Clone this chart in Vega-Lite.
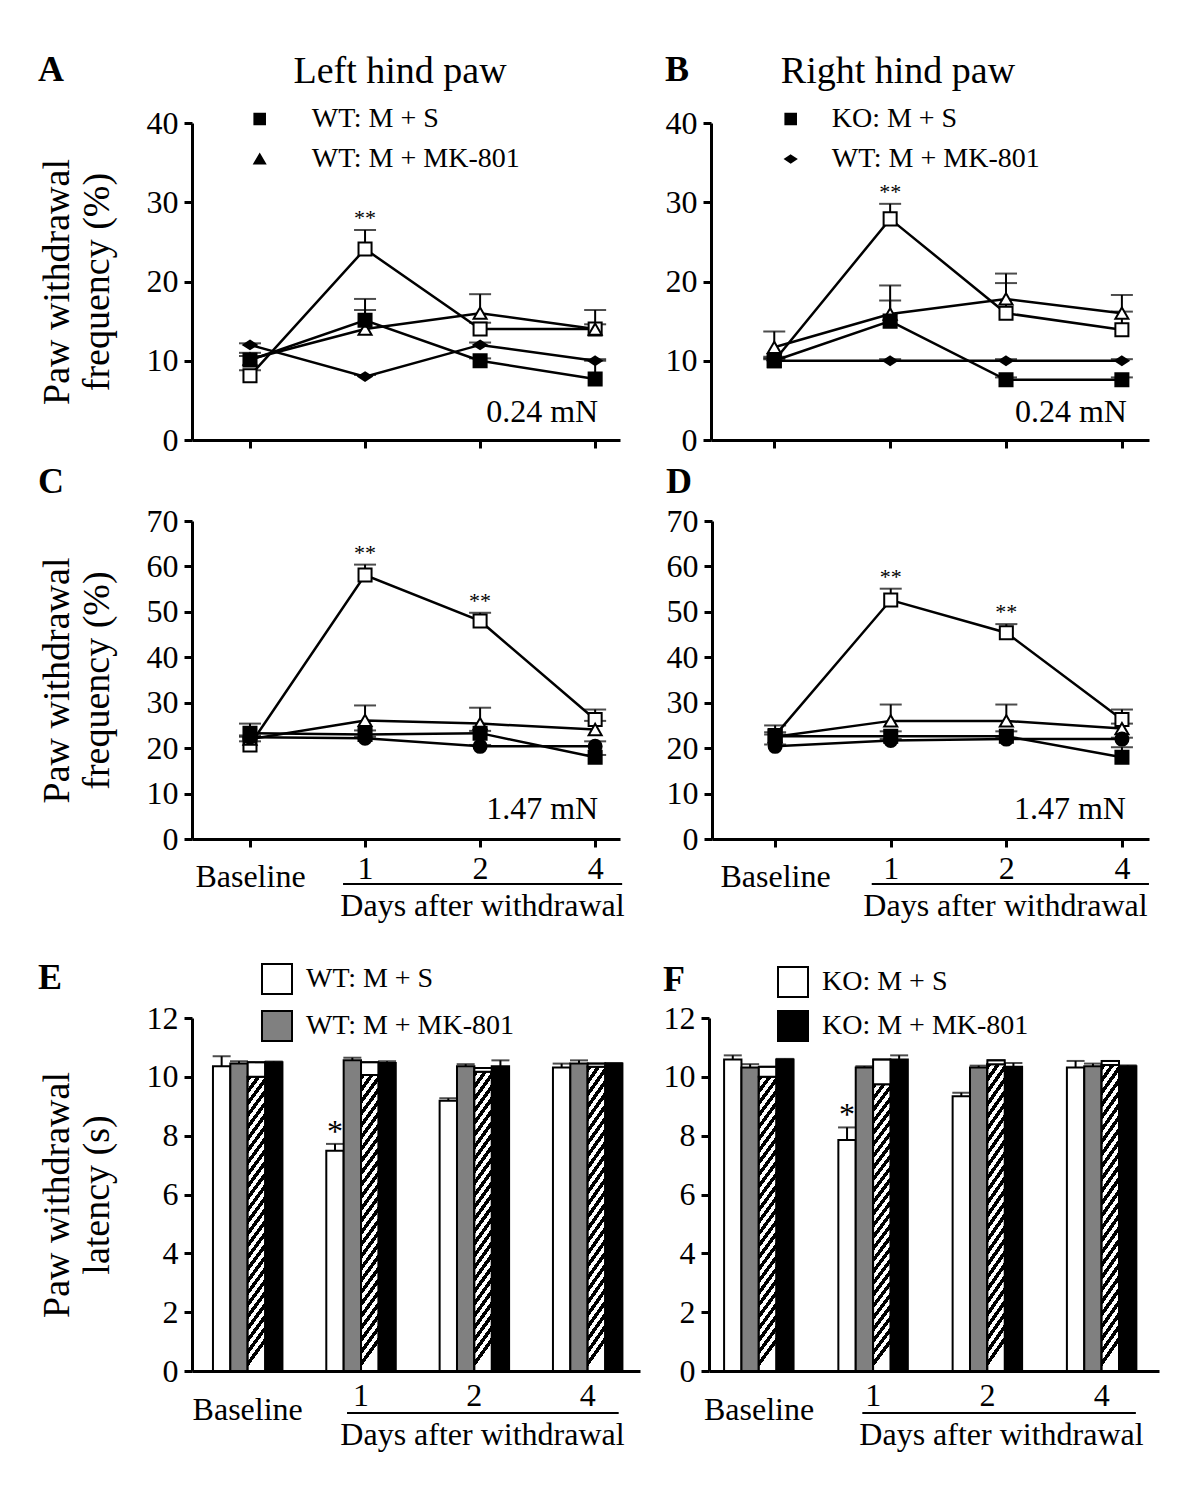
{
"$schema": "https://vega.github.io/schema/vega-lite/v6.json",
"background": "white",
"padding": {"left": 38, "top": 52, "right": 40, "bottom": 40},
"datasets": {
"lines": [
{"panel":"A","series":"WT_S","day":"Baseline","mean":8.1,"hi":8.8},
{"panel":"A","series":"WT_S","day":"1","mean":24.1,"hi":26.5,"sig":"**"},
{"panel":"A","series":"WT_S","day":"2","mean":14.0,"hi":14.8},
{"panel":"A","series":"WT_S","day":"4","mean":14.0,"hi":14.6},
{"panel":"A","series":"WT_MK","day":"Baseline","mean":10.2,"hi":11.0},
{"panel":"A","series":"WT_MK","day":"1","mean":14.0,"hi":17.8},
{"panel":"A","series":"WT_MK","day":"2","mean":16.0,"hi":18.4},
{"panel":"A","series":"WT_MK","day":"4","mean":14.0,"hi":16.4},
{"panel":"A","series":"KO_S","day":"Baseline","mean":10.1,"hi":10.6},
{"panel":"A","series":"KO_S","day":"1","mean":15.1,"hi":16.4},
{"panel":"A","series":"KO_S","day":"2","mean":10.0,"hi":10.3},
{"panel":"A","series":"KO_S","day":"4","mean":7.7,"hi":10.0},
{"panel":"A","series":"KO_MK","day":"Baseline","mean":12.0,"hi":12.2},
{"panel":"A","series":"KO_MK","day":"1","mean":8.0,"hi":8.2},
{"panel":"A","series":"KO_MK","day":"2","mean":12.0,"hi":12.3},
{"panel":"A","series":"KO_MK","day":"4","mean":10.0,"hi":10.2},
{"panel":"B","series":"WT_S","day":"Baseline","mean":10.0,"hi":10.5},
{"panel":"B","series":"WT_S","day":"1","mean":27.9,"hi":29.8,"sig":"**"},
{"panel":"B","series":"WT_S","day":"2","mean":16.0,"hi":19.8},
{"panel":"B","series":"WT_S","day":"4","mean":13.9,"hi":16.2},
{"panel":"B","series":"WT_MK","day":"Baseline","mean":11.7,"hi":13.7},
{"panel":"B","series":"WT_MK","day":"1","mean":15.9,"hi":19.5},
{"panel":"B","series":"WT_MK","day":"2","mean":17.8,"hi":21.0},
{"panel":"B","series":"WT_MK","day":"4","mean":16.0,"hi":18.3},
{"panel":"B","series":"KO_S","day":"Baseline","mean":10.0,"hi":10.3},
{"panel":"B","series":"KO_S","day":"1","mean":15.0,"hi":17.6},
{"panel":"B","series":"KO_S","day":"2","mean":7.6,"hi":7.9},
{"panel":"B","series":"KO_S","day":"4","mean":7.6,"hi":7.9},
{"panel":"B","series":"KO_MK","day":"Baseline","mean":10.0,"hi":10.2},
{"panel":"B","series":"KO_MK","day":"1","mean":10.0,"hi":10.2},
{"panel":"B","series":"KO_MK","day":"2","mean":10.0,"hi":10.2},
{"panel":"B","series":"KO_MK","day":"4","mean":10.0,"hi":10.2},
{"panel":"C","series":"WT_S","day":"Baseline","mean":20.7,"hi":21.5},
{"panel":"C","series":"WT_S","day":"1","mean":58.1,"hi":60.4,"sig":"**"},
{"panel":"C","series":"WT_S","day":"2","mean":48.0,"hi":49.8,"sig":"**"},
{"panel":"C","series":"WT_S","day":"4","mean":26.3,"hi":28.5},
{"panel":"C","series":"WT_MK","day":"Baseline","mean":22.0,"hi":22.5},
{"panel":"C","series":"WT_MK","day":"1","mean":26.1,"hi":29.4},
{"panel":"C","series":"WT_MK","day":"2","mean":25.4,"hi":28.9},
{"panel":"C","series":"WT_MK","day":"4","mean":24.1,"hi":26.0},
{"panel":"C","series":"KO_S","day":"Baseline","mean":23.3,"hi":25.4},
{"panel":"C","series":"KO_S","day":"1","mean":23.0,"hi":23.9},
{"panel":"C","series":"KO_S","day":"2","mean":23.3,"hi":23.8},
{"panel":"C","series":"KO_S","day":"4","mean":18.0,"hi":18.5},
{"panel":"C","series":"KO_MK","day":"Baseline","mean":22.4,"hi":22.8},
{"panel":"C","series":"KO_MK","day":"1","mean":22.2,"hi":22.5},
{"panel":"C","series":"KO_MK","day":"2","mean":20.4,"hi":20.7},
{"panel":"C","series":"KO_MK","day":"4","mean":20.4,"hi":21.5},
{"panel":"D","series":"WT_S","day":"Baseline","mean":22.8,"hi":23.5},
{"panel":"D","series":"WT_S","day":"1","mean":52.6,"hi":55.1,"sig":"**"},
{"panel":"D","series":"WT_S","day":"2","mean":45.4,"hi":47.3,"sig":"**"},
{"panel":"D","series":"WT_S","day":"4","mean":26.3,"hi":28.5},
{"panel":"D","series":"WT_MK","day":"Baseline","mean":22.5,"hi":23.0},
{"panel":"D","series":"WT_MK","day":"1","mean":26.0,"hi":29.6},
{"panel":"D","series":"WT_MK","day":"2","mean":26.0,"hi":29.6},
{"panel":"D","series":"WT_MK","day":"4","mean":24.3,"hi":25.4},
{"panel":"D","series":"KO_S","day":"Baseline","mean":22.6,"hi":25.0},
{"panel":"D","series":"KO_S","day":"1","mean":22.6,"hi":23.7},
{"panel":"D","series":"KO_S","day":"2","mean":22.6,"hi":23.7},
{"panel":"D","series":"KO_S","day":"4","mean":18.0,"hi":20.2},
{"panel":"D","series":"KO_MK","day":"Baseline","mean":20.4,"hi":20.8},
{"panel":"D","series":"KO_MK","day":"1","mean":21.7,"hi":22.0},
{"panel":"D","series":"KO_MK","day":"2","mean":22.0,"hi":22.3},
{"panel":"D","series":"KO_MK","day":"4","mean":22.0,"hi":22.3}
],
"bars": [
{"panel":"E","series":"WT_S","day":"Baseline","mean":10.36,"hi":10.7},
{"panel":"E","series":"WT_MK","day":"Baseline","mean":10.45,"hi":10.53},
{"panel":"E","series":"KO_S","day":"Baseline","mean":10.0,"hi":10.5},
{"panel":"E","series":"KO_MK","day":"Baseline","mean":10.5,"hi":10.52},
{"panel":"E","series":"WT_S","day":"1","mean":7.49,"hi":7.72,"sig":"*"},
{"panel":"E","series":"WT_MK","day":"1","mean":10.56,"hi":10.65},
{"panel":"E","series":"KO_S","day":"1","mean":10.06,"hi":10.5},
{"panel":"E","series":"KO_MK","day":"1","mean":10.47,"hi":10.53},
{"panel":"E","series":"WT_S","day":"2","mean":9.19,"hi":9.27},
{"panel":"E","series":"WT_MK","day":"2","mean":10.36,"hi":10.43},
{"panel":"E","series":"KO_S","day":"2","mean":10.17,"hi":10.3},
{"panel":"E","series":"KO_MK","day":"2","mean":10.36,"hi":10.56},
{"panel":"E","series":"WT_S","day":"4","mean":10.32,"hi":10.45},
{"panel":"E","series":"WT_MK","day":"4","mean":10.45,"hi":10.56},
{"panel":"E","series":"KO_S","day":"4","mean":10.34,"hi":10.45},
{"panel":"E","series":"KO_MK","day":"4","mean":10.45,"hi":10.47},
{"panel":"F","series":"WT_S","day":"Baseline","mean":10.59,"hi":10.73},
{"panel":"F","series":"WT_MK","day":"Baseline","mean":10.32,"hi":10.43},
{"panel":"F","series":"KO_S","day":"Baseline","mean":10.0,"hi":10.34},
{"panel":"F","series":"KO_MK","day":"Baseline","mean":10.59,"hi":10.61},
{"panel":"F","series":"WT_S","day":"1","mean":7.85,"hi":8.28,"sig":"*"},
{"panel":"F","series":"WT_MK","day":"1","mean":10.32,"hi":10.36},
{"panel":"F","series":"KO_S","day":"1","mean":9.75,"hi":10.59},
{"panel":"F","series":"KO_MK","day":"1","mean":10.59,"hi":10.73},
{"panel":"F","series":"WT_S","day":"2","mean":9.34,"hi":9.46},
{"panel":"F","series":"WT_MK","day":"2","mean":10.32,"hi":10.38},
{"panel":"F","series":"KO_S","day":"2","mean":10.43,"hi":10.56},
{"panel":"F","series":"KO_MK","day":"2","mean":10.34,"hi":10.47},
{"panel":"F","series":"WT_S","day":"4","mean":10.32,"hi":10.54},
{"panel":"F","series":"WT_MK","day":"4","mean":10.36,"hi":10.45},
{"panel":"F","series":"KO_S","day":"4","mean":10.4,"hi":10.54},
{"panel":"F","series":"KO_MK","day":"4","mean":10.36,"hi":10.39}
]
},
"vconcat": [
{"vconcat": [
{"hconcat": [
{"title": {"text": "A", "anchor": "start", "frame": "bounds", "fontWeight": "bold", "fontSize": 36, "baseline": "bottom", "offset": -72},
 "resolve": {"scale": {"shape": "independent", "fill": "independent"}, "legend": {"shape": "independent", "fill": "independent"}},
 "vconcat": [
 {"width": 428, "height": 317,
  "title": {"text": "Left hind paw", "fontSize": 38, "anchor": "middle", "frame": "group", "dx": -6, "offset": -24, "baseline": "bottom"},
  "data": {"name": "lines"},
  "transform": [{"filter": "datum.panel === 'A'"}],
  "layer": [
   {"mark": {"type": "rule", "color": "black", "strokeWidth": 2},
    "encoding": {
     "x": {"field": "day", "type": "ordinal", "scale": {"type": "point", "domain": ["Baseline","1","2","4"], "padding": 0.36, "align": 0.7}, "axis": {"labels": false, "title": null}},
     "y": {"field": "mean", "type": "quantitative", "scale": {"domain": [0, 40], "nice": false}, "axis": {"title": ["Paw withdrawal", "frequency (%)"], "values": [0,10,20,30,40], "titlePadding": 30, "labelPadding": 6, "titleLineHeight": 40}},
     "y2": {"field": "hi"}
    }
   },
   {"mark": {"type": "tick", "color": "black", "size": 22, "thickness": 2},
    "encoding": {"x": {"field": "day", "type": "ordinal"}, "y": {"field": "hi", "type": "quantitative"}}},
   {"mark": {"type": "line", "color": "black", "strokeWidth": 2.5},
    "encoding": {"x": {"field": "day", "type": "ordinal"}, "y": {"field": "mean", "type": "quantitative"}, "detail": {"field": "series", "type": "nominal"}, "order": {"value": null}}},
   {"mark": {"type": "point", "filled": true, "stroke": "black", "strokeWidth": 2, "size": 170, "opacity": 1},
    "encoding": {
     "x": {"field": "day", "type": "ordinal"},
     "y": {"field": "mean", "type": "quantitative"},
     "shape": {"field": "series", "type": "nominal",
      "scale": {"domain": ["WT_S","WT_MK","KO_S","KO_MK"], "range": ["square","triangle-up","square","M0,-0.65L1,0L0,0.65L-1,0Z"]},
      "legend": {"values": ["WT_S","WT_MK"], "orient": "none", "legendX": 53.7, "legendY": -18, "title": null, "symbolSize": 112, "symbolStrokeWidth": 2, "labelFontSize": 28, "labelOffset": 38, "rowPadding": 12,
       "labelExpr": "datum.value === 'WT_S' ? 'WT: M + S' : 'WT: M + MK-801'",
       "encode": {"symbols": {"update": {
         "fill": {"value": "white"}, "stroke": {"value": "black"}, "strokeWidth": {"value": 2}, "opacity": {"value": 1}, "size": {"value": 112}
       }}}
      }
     },
     "fill": {"field": "series", "type": "nominal", "scale": {"domain": ["KO_S","KO_MK","WT_S","WT_MK"], "range": ["black","black","white","white"]}, "legend": null}
    }
   },
   {"transform": [{"filter": "datum.sig"}],
    "mark": {"type": "text", "baseline": "bottom", "fontSize": 22},
    "encoding": {"x": {"field": "day", "type": "ordinal"}, "y": {"field": "hi", "type": "quantitative"}, "text": {"field": "sig"}}},
   {"data": {"values": [{"panel": "A", "note": "0.24 mN"}]},
    "mark": {"type": "text", "align": "right", "baseline": "middle", "fontSize": 32, "dx": 3},
    "encoding": {"x": {"datum": "4", "type": "ordinal"}, "y": {"datum": 3.5, "type": "quantitative"}, "text": {"field": "note"}}}
  ]
 }
 ]
},
{"title": {"text": "B", "anchor": "start", "frame": "bounds", "fontWeight": "bold", "fontSize": 36, "baseline": "bottom", "offset": -72},
 "resolve": {"scale": {"shape": "independent", "fill": "independent"}, "legend": {"shape": "independent", "fill": "independent"}},
 "vconcat": [
 {"width": 438, "height": 317,
  "title": {"text": "Right hind paw", "fontSize": 38, "anchor": "middle", "frame": "group", "dx": -32, "offset": -24, "baseline": "bottom"},
  "data": {"name": "lines"},
  "transform": [{"filter": "datum.panel === 'B'"}],
  "layer": [
   {"mark": {"type": "rule", "color": "black", "strokeWidth": 2},
    "encoding": {
     "x": {"field": "day", "type": "ordinal", "scale": {"type": "point", "domain": ["Baseline","1","2","4"], "padding": 0.39, "align": 0.7}, "axis": {"labels": false, "title": null}},
     "y": {"field": "mean", "type": "quantitative", "scale": {"domain": [0, 40], "nice": false}, "axis": {"title": null, "values": [0,10,20,30,40], "labelPadding": 6}},
     "y2": {"field": "hi"}
    }
   },
   {"mark": {"type": "tick", "color": "black", "size": 22, "thickness": 2},
    "encoding": {"x": {"field": "day", "type": "ordinal"}, "y": {"field": "hi", "type": "quantitative"}}},
   {"mark": {"type": "line", "color": "black", "strokeWidth": 2.5},
    "encoding": {"x": {"field": "day", "type": "ordinal"}, "y": {"field": "mean", "type": "quantitative"}, "detail": {"field": "series", "type": "nominal"}, "order": {"value": null}}},
   {"mark": {"type": "point", "filled": true, "stroke": "black", "strokeWidth": 2, "size": 170, "opacity": 1},
    "encoding": {
     "x": {"field": "day", "type": "ordinal"},
     "y": {"field": "mean", "type": "quantitative"},
     "shape": {"field": "series", "type": "nominal",
      "scale": {"domain": ["WT_S","WT_MK","KO_S","KO_MK"], "range": ["square","triangle-up","square","M0,-0.65L1,0L0,0.65L-1,0Z"]},
      "legend": {"values": ["KO_S","KO_MK"], "orient": "none", "legendX": 65.7, "legendY": -18, "title": null, "symbolSize": 112, "symbolStrokeWidth": 2, "labelFontSize": 28, "labelOffset": 27, "rowPadding": 12,
       "labelExpr": "datum.value === 'KO_S' ? 'KO: M + S' : 'WT: M + MK-801'",
       "encode": {"symbols": {"update": {
         "fill": {"value": "black"}, "stroke": {"value": "black"}, "strokeWidth": {"value": 2}, "opacity": {"value": 1}, "size": {"value": 112}
       }}}
      }
     },
     "fill": {"field": "series", "type": "nominal", "scale": {"domain": ["KO_S","KO_MK","WT_S","WT_MK"], "range": ["black","black","white","white"]}, "legend": null}
    }
   },
   {"transform": [{"filter": "datum.sig"}],
    "mark": {"type": "text", "baseline": "bottom", "fontSize": 22},
    "encoding": {"x": {"field": "day", "type": "ordinal"}, "y": {"field": "hi", "type": "quantitative"}, "text": {"field": "sig"}}},
   {"data": {"values": [{"panel": "B", "note": "0.24 mN"}]},
    "mark": {"type": "text", "align": "right", "baseline": "middle", "fontSize": 32, "dx": 5},
    "encoding": {"x": {"datum": "4", "type": "ordinal"}, "y": {"datum": 3.5, "type": "quantitative"}, "text": {"field": "note"}}}
  ]
 }
 ]
}
], "spacing": 45, "resolve": {"scale": {"shape": "independent", "fill": "independent"}, "legend": {"shape": "independent", "fill": "independent"}}},
{"hconcat": [
 {"width": 428, "height": 318,
  "title": {"text": "C", "anchor": "start", "frame": "bounds", "fontWeight": "bold", "fontSize": 36, "baseline": "bottom", "offset": -32},
  "data": {"name": "lines"},
  "transform": [{"filter": "datum.panel === 'C'"}],
  "layer": [
   {"mark": {"type": "rule", "color": "black", "strokeWidth": 2},
    "encoding": {
     "x": {"field": "day", "type": "ordinal", "scale": {"type": "point", "domain": ["Baseline","1","2","4"], "padding": 0.36, "align": 0.7},
      "axis": {"title": "Days after withdrawal", "titleX": 290, "titleY": 51, "titleBaseline": "top", "titleAlign": "center", "titleFontSize": 32, "labelAngle": 0, "labelPadding": 6, "labelBaseline": "top", "labelLineHeight": 8, "labelExpr": "datum.value === 'Baseline' ? ['', 'Baseline'] : datum.label"}},
     "y": {"field": "mean", "type": "quantitative", "scale": {"domain": [0, 70], "nice": false}, "axis": {"title": ["Paw withdrawal", "frequency (%)"], "values": [0,10,20,30,40,50,60,70], "titlePadding": 30, "labelPadding": 6, "titleLineHeight": 40}},
     "y2": {"field": "hi"}
    }
   },
   {"mark": {"type": "tick", "color": "black", "size": 22, "thickness": 2},
    "encoding": {"x": {"field": "day", "type": "ordinal"}, "y": {"field": "hi", "type": "quantitative"}}},
   {"mark": {"type": "line", "color": "black", "strokeWidth": 2.5},
    "encoding": {"x": {"field": "day", "type": "ordinal"}, "y": {"field": "mean", "type": "quantitative"}, "detail": {"field": "series", "type": "nominal"}, "order": {"value": null}}},
   {"mark": {"type": "point", "filled": true, "stroke": "black", "strokeWidth": 2, "size": 170, "opacity": 1},
    "encoding": {
     "x": {"field": "day", "type": "ordinal"},
     "y": {"field": "mean", "type": "quantitative"},
     "shape": {"field": "series", "type": "nominal", "scale": {"domain": ["WT_S","WT_MK","KO_S","KO_MK"], "range": ["square","triangle-up","square","circle"]}, "legend": null},
     "fill": {"field": "series", "type": "nominal", "scale": {"domain": ["WT_S","WT_MK","KO_S","KO_MK"], "range": ["white","white","black","black"]}, "legend": null}
    }
   },
   {"transform": [{"filter": "datum.sig"}],
    "mark": {"type": "text", "baseline": "bottom", "fontSize": 22},
    "encoding": {"x": {"field": "day", "type": "ordinal"}, "y": {"field": "hi", "type": "quantitative"}, "text": {"field": "sig"}}},
   {"data": {"values": [{"panel": "C", "note": "1.47 mN"}]},
    "mark": {"type": "text", "align": "right", "baseline": "middle", "fontSize": 32, "dx": 3},
    "encoding": {"x": {"datum": "4", "type": "ordinal"}, "y": {"datum": 6.6, "type": "quantitative"}, "text": {"field": "note"}}},
   {"data": {"values": [{"panel": "C"}]},
    "mark": {"type": "rule", "color": "black", "strokeWidth": 2, "xOffset": -22, "x2Offset": 27, "yOffset": 45},
    "encoding": {"x": {"datum": "1", "type": "ordinal"}, "x2": {"datum": "4"}, "y": {"datum": 0, "type": "quantitative"}}}
  ]
 },
 {"width": 437, "height": 318,
  "title": {"text": "D", "anchor": "start", "frame": "bounds", "fontWeight": "bold", "fontSize": 36, "baseline": "bottom", "offset": -32},
  "data": {"name": "lines"},
  "transform": [{"filter": "datum.panel === 'D'"}],
  "layer": [
   {"mark": {"type": "rule", "color": "black", "strokeWidth": 2},
    "encoding": {
     "x": {"field": "day", "type": "ordinal", "scale": {"type": "point", "domain": ["Baseline","1","2","4"], "padding": 0.39, "align": 0.7},
      "axis": {"title": "Days after withdrawal", "titleX": 293, "titleY": 51, "titleBaseline": "top", "titleAlign": "center", "titleFontSize": 32, "labelAngle": 0, "labelPadding": 6, "labelBaseline": "top", "labelLineHeight": 8, "labelExpr": "datum.value === 'Baseline' ? ['', 'Baseline'] : datum.label"}},
     "y": {"field": "mean", "type": "quantitative", "scale": {"domain": [0, 70], "nice": false}, "axis": {"title": null, "values": [0,10,20,30,40,50,60,70], "labelPadding": 6}},
     "y2": {"field": "hi"}
    }
   },
   {"mark": {"type": "tick", "color": "black", "size": 22, "thickness": 2},
    "encoding": {"x": {"field": "day", "type": "ordinal"}, "y": {"field": "hi", "type": "quantitative"}}},
   {"mark": {"type": "line", "color": "black", "strokeWidth": 2.5},
    "encoding": {"x": {"field": "day", "type": "ordinal"}, "y": {"field": "mean", "type": "quantitative"}, "detail": {"field": "series", "type": "nominal"}, "order": {"value": null}}},
   {"mark": {"type": "point", "filled": true, "stroke": "black", "strokeWidth": 2, "size": 170, "opacity": 1},
    "encoding": {
     "x": {"field": "day", "type": "ordinal"},
     "y": {"field": "mean", "type": "quantitative"},
     "shape": {"field": "series", "type": "nominal", "scale": {"domain": ["WT_S","WT_MK","KO_S","KO_MK"], "range": ["square","triangle-up","square","circle"]}, "legend": null},
     "fill": {"field": "series", "type": "nominal", "scale": {"domain": ["WT_S","WT_MK","KO_S","KO_MK"], "range": ["white","white","black","black"]}, "legend": null}
    }
   },
   {"transform": [{"filter": "datum.sig"}],
    "mark": {"type": "text", "baseline": "bottom", "fontSize": 22},
    "encoding": {"x": {"field": "day", "type": "ordinal"}, "y": {"field": "hi", "type": "quantitative"}, "text": {"field": "sig"}}},
   {"data": {"values": [{"panel": "D", "note": "1.47 mN"}]},
    "mark": {"type": "text", "align": "right", "baseline": "middle", "fontSize": 32, "dx": 4},
    "encoding": {"x": {"datum": "4", "type": "ordinal"}, "y": {"datum": 6.6, "type": "quantitative"}, "text": {"field": "note"}}},
   {"data": {"values": [{"panel": "D"}]},
    "mark": {"type": "rule", "color": "black", "strokeWidth": 2, "xOffset": -19, "x2Offset": 27, "yOffset": 45},
    "encoding": {"x": {"datum": "1", "type": "ordinal"}, "x2": {"datum": "4"}, "y": {"datum": 0, "type": "quantitative"}}}
  ]
 }
], "spacing": 41, "resolve": {"scale": {"shape": "independent", "fill": "independent"}, "legend": {"shape": "independent", "fill": "independent"}}}
], "spacing": 8, "resolve": {"scale": {"shape": "independent", "fill": "independent"}, "legend": {"shape": "independent", "fill": "independent"}}},
{"hconcat": [
 {"width": 448, "height": 353,
  "title": {"text": "E", "anchor": "start", "frame": "bounds", "fontWeight": "bold", "fontSize": 36, "baseline": "bottom", "offset": -70},
  "data": {"name": "bars"},
  "transform": [{"filter": "datum.panel === 'E'"}],
  "layer": [
   {"mark": {"type": "bar", "stroke": "black", "strokeWidth": 2},
    "encoding": {
     "x": {"field": "day", "type": "nominal", "scale": {"type": "band", "domain": ["Baseline","1","2","4"], "paddingInner": 0.387, "paddingOuter": 0.17, "align": 0.544},
      "axis": {"title": "Days after withdrawal", "titleX": 290, "titleY": 48, "titleBaseline": "top", "titleAlign": "center", "titleFontSize": 32, "ticks": false, "tickSize": 0, "labelAngle": 0, "labelPadding": 9, "labelBaseline": "top", "labelLineHeight": 14, "labelExpr": "datum.value === 'Baseline' ? ['', 'Baseline'] : datum.label"}},
     "xOffset": {"field": "series", "type": "nominal", "scale": {"domain": ["WT_S","WT_MK","KO_S","KO_MK"], "paddingInner": 0, "paddingOuter": 0}},
     "y": {"field": "mean", "type": "quantitative", "scale": {"domain": [0, 12], "nice": false}, "axis": {"title": ["Paw withdrawal", "latency (s)"], "values": [0,2,4,6,8,10,12], "titlePadding": 30, "labelPadding": 6, "titleLineHeight": 40}},
     "fill": {"field": "series", "type": "nominal",
      "scale": {"domain": ["WT_S","WT_MK","KO_S","KO_MK"], "range": ["white","#808080","white","black"]},
      "legend": {"values": ["WT_S","WT_MK"], "orient": "none", "legendX": 69, "legendY": -55, "title": null, "symbolType": "square", "symbolSize": 900, "symbolStrokeColor": "black", "symbolStrokeWidth": 2, "labelFontSize": 28, "labelOffset": 13, "rowPadding": 9,
       "labelExpr": "datum.value === 'WT_S' ? 'WT: M + S' : 'WT: M + MK-801'",
       "encode": {"symbols": {"update": {
         "stroke": {"value": "black"}, "strokeWidth": {"value": 2}, "opacity": {"value": 1}
       }}}
      }
     }
    }
   },
   {"transform": [{"filter": "datum.series === 'KO_S'"}],
    "mark": {"type": "bar", "stroke": "black", "strokeWidth": 2,
     "fill": {"gradient": "linear", "x1": 0, "y1": 0, "x2": 0.081, "y2": 1, "stops": [{"offset":0,"color":"black"},{"offset":0.02,"color":"black"},{"offset":0.02,"color":"white"},{"offset":0.04,"color":"white"},{"offset":0.04,"color":"black"},{"offset":0.06,"color":"black"},{"offset":0.06,"color":"white"},{"offset":0.08,"color":"white"},{"offset":0.08,"color":"black"},{"offset":0.1,"color":"black"},{"offset":0.1,"color":"white"},{"offset":0.12,"color":"white"},{"offset":0.12,"color":"black"},{"offset":0.14,"color":"black"},{"offset":0.14,"color":"white"},{"offset":0.16,"color":"white"},{"offset":0.16,"color":"black"},{"offset":0.18,"color":"black"},{"offset":0.18,"color":"white"},{"offset":0.2,"color":"white"},{"offset":0.2,"color":"black"},{"offset":0.22,"color":"black"},{"offset":0.22,"color":"white"},{"offset":0.24,"color":"white"},{"offset":0.24,"color":"black"},{"offset":0.26,"color":"black"},{"offset":0.26,"color":"white"},{"offset":0.28,"color":"white"},{"offset":0.28,"color":"black"},{"offset":0.3,"color":"black"},{"offset":0.3,"color":"white"},{"offset":0.32,"color":"white"},{"offset":0.32,"color":"black"},{"offset":0.34,"color":"black"},{"offset":0.34,"color":"white"},{"offset":0.36,"color":"white"},{"offset":0.36,"color":"black"},{"offset":0.38,"color":"black"},{"offset":0.38,"color":"white"},{"offset":0.4,"color":"white"},{"offset":0.4,"color":"black"},{"offset":0.42,"color":"black"},{"offset":0.42,"color":"white"},{"offset":0.44,"color":"white"},{"offset":0.44,"color":"black"},{"offset":0.46,"color":"black"},{"offset":0.46,"color":"white"},{"offset":0.48,"color":"white"},{"offset":0.48,"color":"black"},{"offset":0.5,"color":"black"},{"offset":0.5,"color":"white"},{"offset":0.52,"color":"white"},{"offset":0.52,"color":"black"},{"offset":0.54,"color":"black"},{"offset":0.54,"color":"white"},{"offset":0.56,"color":"white"},{"offset":0.56,"color":"black"},{"offset":0.58,"color":"black"},{"offset":0.58,"color":"white"},{"offset":0.6,"color":"white"},{"offset":0.6,"color":"black"},{"offset":0.62,"color":"black"},{"offset":0.62,"color":"white"},{"offset":0.64,"color":"white"},{"offset":0.64,"color":"black"},{"offset":0.66,"color":"black"},{"offset":0.66,"color":"white"},{"offset":0.68,"color":"white"},{"offset":0.68,"color":"black"},{"offset":0.7,"color":"black"},{"offset":0.7,"color":"white"},{"offset":0.72,"color":"white"},{"offset":0.72,"color":"black"},{"offset":0.74,"color":"black"},{"offset":0.74,"color":"white"},{"offset":0.76,"color":"white"},{"offset":0.76,"color":"black"},{"offset":0.78,"color":"black"},{"offset":0.78,"color":"white"},{"offset":0.8,"color":"white"},{"offset":0.8,"color":"black"},{"offset":0.82,"color":"black"},{"offset":0.82,"color":"white"},{"offset":0.84,"color":"white"},{"offset":0.84,"color":"black"},{"offset":0.86,"color":"black"},{"offset":0.86,"color":"white"},{"offset":0.88,"color":"white"},{"offset":0.88,"color":"black"},{"offset":0.9,"color":"black"},{"offset":0.9,"color":"white"},{"offset":0.92,"color":"white"},{"offset":0.92,"color":"black"},{"offset":0.94,"color":"black"},{"offset":0.94,"color":"white"},{"offset":0.96,"color":"white"},{"offset":0.96,"color":"black"},{"offset":0.98,"color":"black"},{"offset":0.98,"color":"white"},{"offset":1,"color":"white"}]}
    },
    "encoding": {"x": {"field": "day", "type": "nominal"}, "xOffset": {"field": "series", "type": "nominal"}, "y": {"field": "mean", "type": "quantitative"}}
   },
   {"transform": [{"filter": "datum.series === 'KO_S'"}],
    "mark": {"type": "bar", "fill": "white", "stroke": "black", "strokeWidth": 2},
    "encoding": {"x": {"field": "day", "type": "nominal"}, "xOffset": {"field": "series", "type": "nominal"}, "y": {"field": "mean", "type": "quantitative"}, "y2": {"field": "hi"}}},
   {"transform": [{"filter": "datum.series !== 'KO_S'"}],
    "mark": {"type": "rule", "color": "black", "strokeWidth": 2},
    "encoding": {"x": {"field": "day", "type": "nominal"}, "xOffset": {"field": "series", "type": "nominal"}, "y": {"field": "mean", "type": "quantitative"}, "y2": {"field": "hi"}}},
   {"mark": {"type": "tick", "color": "black", "size": 18, "thickness": 2},
    "encoding": {"x": {"field": "day", "type": "nominal"}, "xOffset": {"field": "series", "type": "nominal"}, "y": {"field": "hi", "type": "quantitative"}}},
   {"transform": [{"filter": "datum.sig"}],
    "mark": {"type": "text", "baseline": "bottom", "fontSize": 32, "dy": 5},
    "encoding": {"x": {"field": "day", "type": "nominal"}, "xOffset": {"field": "series", "type": "nominal"}, "y": {"field": "hi", "type": "quantitative"}, "text": {"field": "sig"}}},
   {"data": {"values": [{"panel": "E"}]},
    "mark": {"type": "rule", "color": "black", "strokeWidth": 2, "xOffset": -14, "x2Offset": 31, "yOffset": 42},
    "encoding": {"x": {"datum": "1", "type": "nominal"}, "x2": {"datum": "4"}, "y": {"datum": 0, "type": "quantitative"}}}
  ]
 },
 {"width": 450, "height": 353,
  "title": {"text": "F", "anchor": "start", "frame": "bounds", "fontWeight": "bold", "fontSize": 36, "baseline": "bottom", "offset": -69},
  "data": {"name": "bars"},
  "transform": [{"filter": "datum.panel === 'F'"}],
  "layer": [
   {"mark": {"type": "bar", "stroke": "black", "strokeWidth": 2},
    "encoding": {
     "x": {"field": "day", "type": "nominal", "scale": {"type": "band", "domain": ["Baseline","1","2","4"], "paddingInner": 0.388, "paddingOuter": 0.163, "align": 0.405},
      "axis": {"title": "Days after withdrawal", "titleX": 292, "titleY": 48, "titleBaseline": "top", "titleAlign": "center", "titleFontSize": 32, "ticks": false, "tickSize": 0, "labelAngle": 0, "labelPadding": 9, "labelBaseline": "top", "labelLineHeight": 14, "labelExpr": "datum.value === 'Baseline' ? ['', 'Baseline'] : datum.label"}},
     "xOffset": {"field": "series", "type": "nominal", "scale": {"domain": ["WT_S","WT_MK","KO_S","KO_MK"], "paddingInner": 0, "paddingOuter": 0}},
     "y": {"field": "mean", "type": "quantitative", "scale": {"domain": [0, 12], "nice": false}, "axis": {"title": null, "values": [0,2,4,6,8,10,12], "labelPadding": 6}},
     "fill": {"field": "series", "type": "nominal",
      "scale": {"domain": ["WT_S","WT_MK","KO_S","KO_MK"], "range": ["white","#808080","white","black"]},
      "legend": {"values": ["KO_S","KO_MK"], "orient": "none", "legendX": 68, "legendY": -52, "title": null, "symbolType": "square", "symbolSize": 900, "symbolStrokeColor": "black", "symbolStrokeWidth": 2, "labelFontSize": 28, "labelOffset": 13, "rowPadding": 6,
       "labelExpr": "datum.value === 'KO_S' ? 'KO: M + S' : 'KO: M + MK-801'",
       "encode": {"symbols": {"update": {
         "stroke": {"value": "black"}, "strokeWidth": {"value": 2}, "opacity": {"value": 1}
       }}}
      }
     }
    }
   },
   {"transform": [{"filter": "datum.series === 'KO_S'"}],
    "mark": {"type": "bar", "stroke": "black", "strokeWidth": 2,
     "fill": {"gradient": "linear", "x1": 0, "y1": 0, "x2": 0.081, "y2": 1, "stops": [{"offset":0,"color":"black"},{"offset":0.02,"color":"black"},{"offset":0.02,"color":"white"},{"offset":0.04,"color":"white"},{"offset":0.04,"color":"black"},{"offset":0.06,"color":"black"},{"offset":0.06,"color":"white"},{"offset":0.08,"color":"white"},{"offset":0.08,"color":"black"},{"offset":0.1,"color":"black"},{"offset":0.1,"color":"white"},{"offset":0.12,"color":"white"},{"offset":0.12,"color":"black"},{"offset":0.14,"color":"black"},{"offset":0.14,"color":"white"},{"offset":0.16,"color":"white"},{"offset":0.16,"color":"black"},{"offset":0.18,"color":"black"},{"offset":0.18,"color":"white"},{"offset":0.2,"color":"white"},{"offset":0.2,"color":"black"},{"offset":0.22,"color":"black"},{"offset":0.22,"color":"white"},{"offset":0.24,"color":"white"},{"offset":0.24,"color":"black"},{"offset":0.26,"color":"black"},{"offset":0.26,"color":"white"},{"offset":0.28,"color":"white"},{"offset":0.28,"color":"black"},{"offset":0.3,"color":"black"},{"offset":0.3,"color":"white"},{"offset":0.32,"color":"white"},{"offset":0.32,"color":"black"},{"offset":0.34,"color":"black"},{"offset":0.34,"color":"white"},{"offset":0.36,"color":"white"},{"offset":0.36,"color":"black"},{"offset":0.38,"color":"black"},{"offset":0.38,"color":"white"},{"offset":0.4,"color":"white"},{"offset":0.4,"color":"black"},{"offset":0.42,"color":"black"},{"offset":0.42,"color":"white"},{"offset":0.44,"color":"white"},{"offset":0.44,"color":"black"},{"offset":0.46,"color":"black"},{"offset":0.46,"color":"white"},{"offset":0.48,"color":"white"},{"offset":0.48,"color":"black"},{"offset":0.5,"color":"black"},{"offset":0.5,"color":"white"},{"offset":0.52,"color":"white"},{"offset":0.52,"color":"black"},{"offset":0.54,"color":"black"},{"offset":0.54,"color":"white"},{"offset":0.56,"color":"white"},{"offset":0.56,"color":"black"},{"offset":0.58,"color":"black"},{"offset":0.58,"color":"white"},{"offset":0.6,"color":"white"},{"offset":0.6,"color":"black"},{"offset":0.62,"color":"black"},{"offset":0.62,"color":"white"},{"offset":0.64,"color":"white"},{"offset":0.64,"color":"black"},{"offset":0.66,"color":"black"},{"offset":0.66,"color":"white"},{"offset":0.68,"color":"white"},{"offset":0.68,"color":"black"},{"offset":0.7,"color":"black"},{"offset":0.7,"color":"white"},{"offset":0.72,"color":"white"},{"offset":0.72,"color":"black"},{"offset":0.74,"color":"black"},{"offset":0.74,"color":"white"},{"offset":0.76,"color":"white"},{"offset":0.76,"color":"black"},{"offset":0.78,"color":"black"},{"offset":0.78,"color":"white"},{"offset":0.8,"color":"white"},{"offset":0.8,"color":"black"},{"offset":0.82,"color":"black"},{"offset":0.82,"color":"white"},{"offset":0.84,"color":"white"},{"offset":0.84,"color":"black"},{"offset":0.86,"color":"black"},{"offset":0.86,"color":"white"},{"offset":0.88,"color":"white"},{"offset":0.88,"color":"black"},{"offset":0.9,"color":"black"},{"offset":0.9,"color":"white"},{"offset":0.92,"color":"white"},{"offset":0.92,"color":"black"},{"offset":0.94,"color":"black"},{"offset":0.94,"color":"white"},{"offset":0.96,"color":"white"},{"offset":0.96,"color":"black"},{"offset":0.98,"color":"black"},{"offset":0.98,"color":"white"},{"offset":1,"color":"white"}]}
    },
    "encoding": {"x": {"field": "day", "type": "nominal"}, "xOffset": {"field": "series", "type": "nominal"}, "y": {"field": "mean", "type": "quantitative"}}
   },
   {"transform": [{"filter": "datum.series === 'KO_S'"}],
    "mark": {"type": "bar", "fill": "white", "stroke": "black", "strokeWidth": 2},
    "encoding": {"x": {"field": "day", "type": "nominal"}, "xOffset": {"field": "series", "type": "nominal"}, "y": {"field": "mean", "type": "quantitative"}, "y2": {"field": "hi"}}},
   {"transform": [{"filter": "datum.series !== 'KO_S'"}],
    "mark": {"type": "rule", "color": "black", "strokeWidth": 2},
    "encoding": {"x": {"field": "day", "type": "nominal"}, "xOffset": {"field": "series", "type": "nominal"}, "y": {"field": "mean", "type": "quantitative"}, "y2": {"field": "hi"}}},
   {"mark": {"type": "tick", "color": "black", "size": 18, "thickness": 2},
    "encoding": {"x": {"field": "day", "type": "nominal"}, "xOffset": {"field": "series", "type": "nominal"}, "y": {"field": "hi", "type": "quantitative"}}},
   {"transform": [{"filter": "datum.sig"}],
    "mark": {"type": "text", "baseline": "bottom", "fontSize": 32, "dy": 5},
    "encoding": {"x": {"field": "day", "type": "nominal"}, "xOffset": {"field": "series", "type": "nominal"}, "y": {"field": "hi", "type": "quantitative"}, "text": {"field": "sig"}}},
   {"data": {"values": [{"panel": "F"}]},
    "mark": {"type": "rule", "color": "black", "strokeWidth": 2, "xOffset": -11, "x2Offset": 34, "yOffset": 42},
    "encoding": {"x": {"datum": "1", "type": "nominal"}, "x2": {"datum": "4"}, "y": {"datum": 0, "type": "quantitative"}}}
  ]
 }
], "spacing": 23, "resolve": {"scale": {"shape": "independent", "fill": "independent"}, "legend": {"shape": "independent", "fill": "independent"}}}
],
"spacing": 39,
"resolve": {"scale": {"shape": "independent", "fill": "independent"}, "legend": {"shape": "independent", "fill": "independent"}},
"config": {
 "font": "Liberation Serif",
 "view": {"stroke": null},
 "axis": {"domainColor": "black", "domainWidth": 3, "tickColor": "black", "tickWidth": 3, "tickSize": 8, "labelFont": "Liberation Serif", "labelFontSize": 32, "labelColor": "black", "titleFont": "Liberation Serif", "titleFontSize": 38, "titleFontWeight": "normal", "titleColor": "black", "grid": false, "labelFlush": false, "labelOverlap": false},
 "legend": {"labelFont": "Liberation Serif", "labelFontSize": 28, "labelColor": "black", "labelLimit": 0},
 "title": {"font": "Liberation Serif", "fontSize": 38, "fontWeight": "normal", "color": "black"},
 "text": {"font": "Liberation Serif", "color": "black"}
}
}
